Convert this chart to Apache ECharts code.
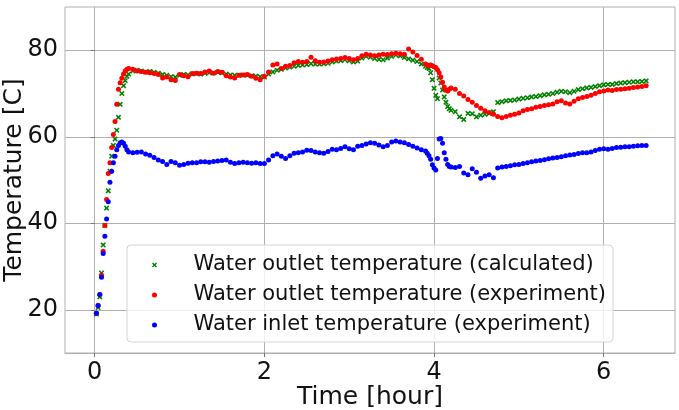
<!DOCTYPE html>
<html>
<head>
<meta charset="utf-8">
<script src="https://cdn.jsdelivr.net/npm/echarts@6/dist/echarts.min.js"></script>
<style>
html,body{margin:0;padding:0;background:#fff;}
#chart{width:679px;height:410px;}
</style>
</head>
<body>
<div id="chart"></div>
<script>
const times = [0.02,0.04,0.06,0.08,0.10,0.12,0.14,0.16,0.18,0.20,0.22,0.24,0.26,0.28,0.30,0.32,0.34,0.36,0.38,0.40,
0.45,0.50,0.55,0.60,0.65,0.70,0.75,0.80,0.85,0.90,0.95,1.00,1.05,1.10,1.15,1.20,1.25,1.30,1.35,1.40,
1.45,1.50,1.55,1.60,1.65,1.70,1.75,1.80,1.85,1.90,1.95,2.00,2.05,2.10,2.15,2.20,2.25,2.30,2.35,2.40,
2.45,2.50,2.55,2.60,2.65,2.70,2.75,2.80,2.85,2.90,2.95,3.00,3.05,3.10,3.15,3.20,3.25,3.30,3.35,3.40,
3.45,3.50,3.55,3.60,3.65,3.70,3.75,3.80,3.85,3.90,
3.92,3.94,3.96,3.98,4.00,4.02,4.04,4.06,4.08,4.10,4.12,4.14,4.16,4.18,4.20,
4.25,4.30,4.35,4.40,4.45,4.50,4.55,4.60,4.65,4.70,4.75,4.80,4.85,4.90,4.95,5.00,5.05,5.10,5.15,5.20,
5.25,5.30,5.35,5.40,5.45,5.50,5.55,5.60,5.65,5.70,5.75,5.80,5.85,5.90,5.95,6.00,6.05,6.10,6.15,6.20,
6.25,6.30,6.35,6.40,6.45,6.50];

const outletCalculated = [19.0,20.5,23.0,28.5,35.0,39.5,43.5,47.5,52.0,55.5,58.0,59.5,61.5,64.5,67.5,70.0,71.8,73.0,74.0,74.5,
75.2,75.4,75.2,75.0,75.1,74.9,74.7,74.4,74.2,73.9,73.8,74.2,74.4,74.3,74.5,74.6,74.5,74.7,74.8,74.8,
74.9,74.8,74.5,74.3,74.2,74.2,74.3,74.2,74.1,74.0,73.9,73.8,74.5,75.0,75.4,75.6,75.9,76.1,76.3,76.5,
76.6,76.7,76.9,76.8,76.8,76.9,77.0,77.3,77.5,77.6,77.8,77.6,77.3,77.5,78.2,78.6,78.4,78.1,77.9,77.8,
78.2,78.6,78.9,78.7,78.3,78.0,77.7,77.4,76.8,76.3,
76.0,75.8,74.8,73.2,71.2,69.6,68.8,73.6,72.4,70.8,69.2,68.0,67.0,66.5,66.1,
65.8,64.6,64.0,65.4,65.3,64.6,65.0,65.2,65.4,65.8,67.9,68.1,68.3,68.4,68.5,68.7,68.9,69.0,69.2,69.3,
69.5,69.7,69.8,70.0,70.3,70.5,70.4,70.2,70.5,70.9,71.1,71.3,71.4,71.6,71.8,72.0,72.1,72.1,72.3,72.4,
72.5,72.6,72.7,72.7,72.8,72.9];

const outletExperiment = [19.2,21.0,23.5,28.0,33.5,39.5,45.5,51.5,54.0,57.5,60.5,63.5,67.5,71.0,72.5,73.5,74.5,75.2,75.6,75.8,
75.6,75.2,75.1,74.9,74.8,74.6,74.4,73.6,73.8,73.2,73.0,74.4,74.1,73.9,74.6,74.7,74.6,75.0,75.2,74.7,
75.1,74.9,74.1,73.8,73.6,74.2,74.3,74.4,74.0,73.5,73.2,74.0,75.0,76.6,76.8,75.8,76.3,76.5,77.1,77.4,
77.2,77.4,78.4,77.6,77.2,77.3,77.5,77.8,78.0,78.1,78.3,78.1,77.8,78.1,78.7,79.1,78.9,78.7,78.9,79.1,
79.0,79.2,79.3,79.2,79.1,80.3,79.6,78.8,77.9,76.8,
76.6,76.5,76.6,76.4,76.2,76.0,75.5,74.8,73.8,72.6,71.5,70.8,70.6,71.0,71.3,
71.0,70.0,69.4,68.6,68.0,67.2,66.6,66.0,65.6,65.2,64.7,64.4,64.7,65.0,65.2,65.5,66.0,66.3,66.5,66.8,
67.0,67.2,67.4,67.6,68.1,68.3,67.8,67.6,68.2,68.8,69.1,69.3,69.6,70.0,70.4,70.6,70.8,70.7,70.9,71.0,
71.1,71.2,71.4,71.5,71.6,71.8];

const inletExperiment = [19.2,21.0,23.5,27.5,33.0,37.0,41.0,45.0,49.5,52.0,54.0,55.5,57.0,58.0,58.6,58.8,58.5,57.8,57.0,56.5,
56.3,56.4,56.5,56.0,55.7,55.2,54.6,54.3,53.6,54.3,54.0,53.4,53.6,53.9,54.0,54.0,54.2,54.2,54.1,54.3,
54.4,54.5,54.6,54.1,53.8,54.0,54.1,54.0,53.9,54.0,53.8,53.8,54.6,55.6,56.0,55.5,55.0,55.6,56.2,56.3,
56.5,56.9,56.8,56.5,56.3,56.2,56.6,57.1,57.0,57.3,57.7,57.2,57.0,57.8,58.0,58.3,58.6,58.5,58.1,57.7,
58.0,58.8,59.0,58.8,58.6,58.2,57.8,57.4,57.0,56.7,
56.2,55.6,54.8,53.5,52.8,52.3,55.0,59.5,59.6,58.5,56.3,54.8,53.6,53.1,53.0,
52.9,53.1,51.6,51.2,52.6,51.8,50.4,50.9,51.2,50.5,52.8,53.0,53.1,53.3,53.5,53.6,53.8,54.0,54.2,54.4,
54.5,54.7,54.9,55.1,55.2,55.4,55.6,55.8,55.9,56.1,56.3,56.3,56.5,56.8,57.1,57.2,57.1,57.3,57.5,57.6,
57.7,57.7,57.8,57.9,58.0,58.0];

const seriesNames = ['Water outlet temperature (calculated)','Water outlet temperature (experiment)','Water inlet temperature (experiment)'];
const xTicks = [0,2,4,6];
const yTicks = [20,40,60,80];

const FONT = 'DejaVu Sans';
const xMark = 'path://M0,2L2,0L5,3L8,0L10,2L7,5L10,8L8,10L5,7L2,10L0,8L3,5Z';

function pairs(vals){ return times.map((t,i)=>[t, vals[i]]); }

const chart = echarts.init(document.getElementById('chart'), null, {renderer:'canvas'});
const gridColor = '#b0b0b0';
chart.setOption({
  animation:false,
  grid:{left:65,right:4,top:7,bottom:57,containLabel:false,outerBoundsMode:'none',show:true,borderColor:gridColor,borderWidth:1,backgroundColor:'transparent'},
  xAxis:{
    type:'value',min:-0.35,max:6.84,
    name:'Time [hour]',nameLocation:'middle',nameGap:32,nameMoveOverlap:false,
    nameTextStyle:{fontFamily:FONT,fontSize:25,color:'#111'},
    axisLine:{show:true,onZero:false,lineStyle:{color:gridColor,width:1}},
    axisTick:{show:true,customValues:xTicks,length:4,lineStyle:{color:'#777'}},
    axisLabel:{customValues:xTicks,fontFamily:FONT,fontSize:24,color:'#111',margin:8},
    splitLine:{show:true,lineStyle:{color:gridColor,width:1}}
  },
  yAxis:{
    type:'value',min:10,max:90,
    name:'Temperature [C]',nameLocation:'middle',nameGap:38,nameMoveOverlap:false,
    nameTextStyle:{fontFamily:FONT,fontSize:25,color:'#111'},
    axisLine:{show:true,lineStyle:{color:gridColor,width:1}},
    axisTick:{show:true,customValues:yTicks,length:4,lineStyle:{color:'#777'}},
    axisLabel:{customValues:yTicks,fontFamily:FONT,fontSize:24,color:'#111',margin:7},
    splitLine:{show:true,lineStyle:{color:gridColor,width:1}}
  },
  graphic:[{
    type:'rect',z:3,
    shape:{x:127,y:245,width:486,height:97,r:4},
    style:{fill:'rgba(255,255,255,0.8)',stroke:'#d4d4d4',lineWidth:1}
  }],
  legend:{
    orient:'vertical',left:152,top:253,padding:0,itemGap:6,
    itemWidth:68,itemHeight:5,
    textStyle:{fontFamily:FONT,fontSize:21,color:'#111',lineHeight:24},
    data:seriesNames,z:4
  },
  series:[
    {type:'scatter',name:seriesNames[0],data:pairs(outletCalculated),symbol:xMark,symbolSize:5.5,itemStyle:{color:'#008000',opacity:1}},
    {type:'scatter',name:seriesNames[1],data:pairs(outletExperiment),symbol:'circle',symbolSize:5,itemStyle:{color:'#ff0000',opacity:1}},
    {type:'scatter',name:seriesNames[2],data:pairs(inletExperiment),symbol:'circle',symbolSize:5,itemStyle:{color:'#0000ff',opacity:1}}
  ]
});
</script>
</body>
</html>
